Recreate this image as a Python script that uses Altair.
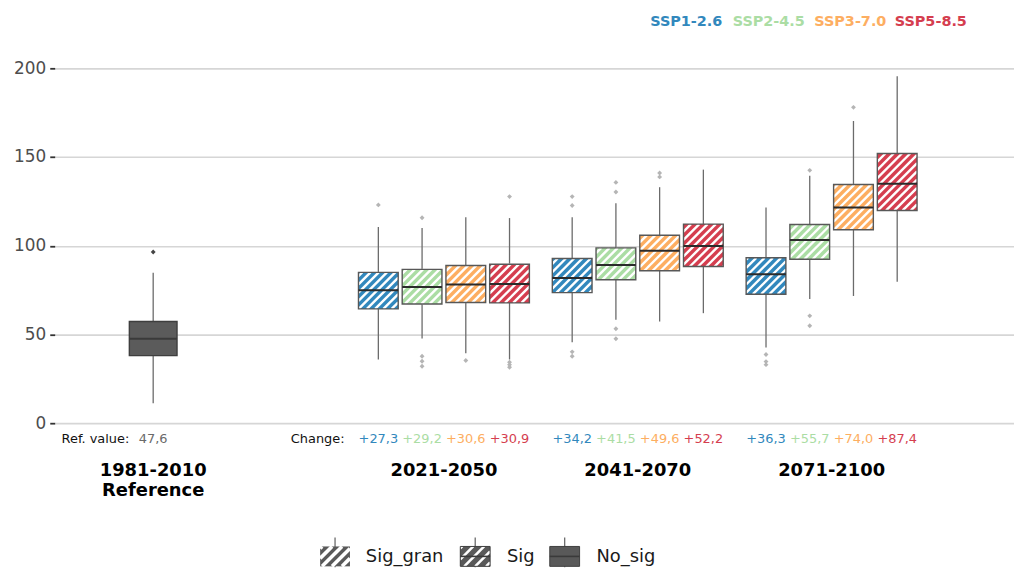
import altair as alt
import numpy as np
import pandas as pd

# ---------------- data ----------------
SCENARIOS = ["SSP1-2.6", "SSP2-4.5", "SSP3-7.0", "SSP5-8.5"]
COLORS = ["#3288bd", "#abdda4", "#fdae61", "#d53e4f"]
FUTURE_PERIODS = ["2021-2050", "2041-2070", "2071-2100"]
REF_PERIOD = "1981-2010\nReference"

REF_LO, REF_Q1, REF_MED, REF_Q3, REF_HI = 11.2, 38.1, 47.6, 57.3, 84.8
REF_OUTLIERS = [96.5]
REF_VALUE_LABEL = "47,6"

# rows: future periods, columns: scenarios
LO = [[35.9, 47.8, 39.4, 35.9], [45.6, 58.3, 57.3, 62.0], [42.6, 70.0, 71.7, 79.7]]
Q1 = [[64.4, 67.2, 68.0, 67.8], [73.6, 80.8, 85.9, 88.3], [72.7, 92.4, 109.0, 119.9]]
MED = [[74.9, 76.8, 78.2, 78.5], [81.8, 89.1, 97.2, 99.8], [83.9, 103.3, 121.6, 135.0]]
Q3 = [[85.0, 86.7, 88.9, 89.6], [92.8, 98.8, 105.9, 112.2], [93.2, 112.0, 134.5, 152.0]]
HI = [[110.5, 110.0, 116.1, 115.6], [116.1, 124.0, 133.0, 142.9], [121.6, 139.5, 170.3, 195.5]]
OUTLIERS = [
    [[123.0], [115.8, 37.7, 34.9, 32.1], [35.3], [127.7, 34.4, 33.0, 31.5]],
    [[127.7, 122.7, 40.2, 37.7], [135.7, 130.3, 53.2, 47.6], [141.0, 138.8], []],
    [[38.7, 34.7, 33.0], [142.5, 60.5, 54.9], [178.0], []],
]
CHANGE = [[27.3, 29.2, 30.6, 30.9], [34.2, 41.5, 49.6, 52.2], [36.3, 55.7, 74.0, 87.4]]
LEGEND_KINDS = ["Sig_gran", "Sig", "No_sig"]
Y_TICKS = [0, 50, 100, 150, 200]

# ---------------- layout ----------------
W, H = 965, 357
XMIN, XMAX = -0.508, 4.441
YMIN, YMAX = 0.0, 200.0
STEP = 0.2256
HALF_FUT = 0.1025
HALF_REF = 0.123
FONT = "DejaVu Sans"

xs = alt.Scale(domain=[XMIN, XMAX], nice=False, zero=False)
ys = alt.Scale(domain=[YMIN, YMAX], nice=False, zero=False)


def to_px(x, y):
    return (x - XMIN) / (XMAX - XMIN) * W, H - (y - YMIN) / (YMAX - YMIN) * H


def from_px(px, py):
    return XMIN + px / W * (XMAX - XMIN), YMIN + (H - py) / H * (YMAX - YMIN)


def hatch_segments(px0, px1, py0, py1, period):
    segs = []
    c = np.floor((px0 + py0) / period) * period
    while c < px1 + py1:
        xa = max(px0, c - py1)
        xb = min(px1, c - py0)
        if xb - xa > 0.2:
            segs.append((xa, c - xa, xb, c - xb))
        c += period
    return segs


def segs_to_data(segs):
    out = []
    for (xa, ya, xb, yb) in segs:
        x1, y1 = from_px(xa, ya)
        x2, y2 = from_px(xb, yb)
        out.append(dict(x=x1, y=y1, x2=x2, y2=y2))
    return out


# ---------------- tables ----------------
rows = [dict(pos=0.0, half=HALF_REF, lo=REF_LO, q1=REF_Q1, med=REF_MED, q3=REF_Q3, hi=REF_HI,
             fill="#5b5b5b", line="#3e3e3e", medcol="#3a3a3a", hatch=False)]
out_rows = [dict(pos=0.0, val=v, col="#444444") for v in REF_OUTLIERS]
change_rows = []
for i, p in enumerate(FUTURE_PERIODS):
    for j, s in enumerate(SCENARIOS):
        pos = 1.5 + i + (j - 1.5) * STEP
        rows.append(dict(pos=pos, half=HALF_FUT, lo=LO[i][j], q1=Q1[i][j], med=MED[i][j], q3=Q3[i][j],
                         hi=HI[i][j], fill=COLORS[j], line="#585858", medcol="#2b2b2b", hatch=True))
        for v in OUTLIERS[i][j]:
            out_rows.append(dict(pos=pos, val=v, col="#b5b5b5"))
        change_rows.append(dict(pos=pos, label="+" + f"{CHANGE[i][j]:.1f}".replace(".", ","), col=COLORS[j]))

boxes = pd.DataFrame(rows)
boxes["xl"] = boxes["pos"] - boxes["half"]
boxes["xr"] = boxes["pos"] + boxes["half"]
outs = pd.DataFrame(out_rows)
changes = pd.DataFrame(change_rows)
periods = pd.DataFrame({"pos": [0.0] + [1.5 + i for i in range(len(FUTURE_PERIODS))],
                        "label": [REF_PERIOD] + FUTURE_PERIODS})

hatch_rows = []
for _, b in boxes[boxes["hatch"]].iterrows():
    px0, py0 = to_px(b["xl"], b["q3"])
    px1, py1 = to_px(b["xr"], b["q1"])
    hatch_rows += segs_to_data(hatch_segments(px0, px1, py0, py1, 8.3))
hatch_df = pd.DataFrame(hatch_rows)

# bottom legend keys (pixel layout in view coords -> data coords)
LEG_X = [267, 408, 498]
LEG_TEXT_X = [313, 455, 545]
LEG_TOP, LEG_BOT, LEG_WTOP, LEG_WBOT = 481, 501, 472, 502
leg_boxes, leg_hatch_wide, leg_hatch_thin, leg_whisk, leg_med = [], [], [], [], []
for k, kind in enumerate(LEGEND_KINDS):
    x0 = LEG_X[k]
    x1 = x0 + 30
    ax0, ay0 = from_px(x0, LEG_TOP)
    ax1, ay1 = from_px(x1, LEG_BOT)
    wx, wy0 = from_px(x0 + 15, LEG_WTOP)
    _, wy1 = from_px(x0 + 15, LEG_WBOT)
    leg_whisk.append(dict(x=wx, y=wy0, y2=wy1))
    leg_boxes.append(dict(x=ax0, x2=ax1, y=ay0, y2=ay1,
                          lw=0 if kind == "Sig_gran" else 1))
    if kind == "Sig_gran":
        leg_hatch_wide += segs_to_data(hatch_segments(x0, x1, LEG_TOP, LEG_BOT, 10))
    elif kind == "Sig":
        leg_hatch_thin += segs_to_data(hatch_segments(x0, x1, LEG_TOP, LEG_BOT, 11))
    if kind != "Sig_gran":
        _, my = from_px(x0, (LEG_TOP + LEG_BOT) / 2)
        leg_med.append(dict(x=ax0, x2=ax1, y=my))
leg_boxes = pd.DataFrame(leg_boxes)

# ---------------- layers ----------------
yaxis = alt.Axis(values=Y_TICKS, title=None, grid=True, gridColor="#d6d6d6", gridWidth=1.7,
                 domain=False, ticks=True, tickColor="#333333", tickSize=5, tickWidth=1.8,
                 labelFontSize=17, labelColor="#4d4d4d", labelPadding=4, labelFont=FONT)


def X(f):
    return alt.X(f"{f}:Q", scale=xs, axis=None)


def Y(f):
    return alt.Y(f"{f}:Q", scale=ys, axis=yaxis)


base = alt.Chart(boxes)
layers = []
layers.append(base.mark_rule(color="#6b6b6b", strokeWidth=1.3).encode(x=X("pos"), y=Y("lo"), y2="q1"))
layers.append(base.mark_rule(color="#6b6b6b", strokeWidth=1.3).encode(x=X("pos"), y=Y("q3"), y2="hi"))
layers.append(base.mark_rect().encode(x=X("xl"), x2="xr", y=Y("q1"), y2="q3",
                                      fill=alt.Fill("fill:N", scale=None)))
layers.append(alt.Chart(hatch_df).mark_rule(color="white", strokeWidth=2.4).encode(
    x=X("x"), x2="x2", y=Y("y"), y2="y2"))
layers.append(base.mark_rect(fill="transparent", strokeWidth=1.4).encode(
    x=X("xl"), x2="xr", y=Y("q1"), y2="q3", stroke=alt.Stroke("line:N", scale=None)))
layers.append(base.mark_rule(strokeWidth=2).encode(
    x=X("xl"), x2="xr", y=Y("med"), color=alt.Color("medcol:N", scale=None)))
layers.append(alt.Chart(outs).mark_point(shape="diamond", filled=True, size=24, opacity=1).encode(
    x=X("pos"), y=Y("val"), color=alt.Color("col:N", scale=None)))

# annotations below the panel
ref_df = pd.DataFrame({"pos": [0.0], "t": [REF_VALUE_LABEL]})
layers.append(alt.Chart(ref_df).mark_text(fontSize=13, color="#6a6a6a", baseline="middle", font=FONT).encode(
    x=X("pos"), y=alt.value(373), text="t:N"))
layers.append(alt.Chart(ref_df).mark_text(fontSize=13, color="#111111", baseline="middle", align="right",
                                          dx=-24, text="Ref. value:", font=FONT).encode(
    x=X("pos"), y=alt.value(373)))
layers.append(alt.Chart(changes.iloc[:1]).mark_text(fontSize=13, color="#111111", baseline="middle",
                                                    align="right", dx=-34, text="Change:", font=FONT).encode(
    x=X("pos"), y=alt.value(373)))
layers.append(alt.Chart(changes).mark_text(fontSize=13, baseline="middle", font=FONT).encode(
    x=X("pos"), y=alt.value(373), text="label:N", color=alt.Color("col:N", scale=None)))
layers.append(alt.Chart(periods).mark_text(fontSize=18, fontWeight="bold", baseline="top", lineBreak="\n",
                                           lineHeight=20, color="#000000", font=FONT).encode(
    x=X("pos"), y=alt.value(396), text="label:N"))

# top legend (coloured scenario names)
dummy = pd.DataFrame({"a": [0]})
for s, c, px in zip(SCENARIOS, COLORS, [599, 682, 764, 845]):
    layers.append(alt.Chart(dummy).mark_text(text=s, color=c, fontWeight="bold", fontSize=14.5,
                                             align="left", baseline="middle", font=FONT).encode(
        x=alt.value(px), y=alt.value(-47)))

# bottom legend keys
layers.append(alt.Chart(pd.DataFrame(leg_whisk)).mark_rule(color="#6b6b6b", strokeWidth=1.3).encode(
    x=X("x"), y=Y("y"), y2="y2"))
layers.append(alt.Chart(leg_boxes).mark_rect(fill="#595959").encode(x=X("x"), x2="x2", y=Y("y"), y2="y2"))
layers.append(alt.Chart(pd.DataFrame(leg_hatch_wide)).mark_rule(color="white", strokeWidth=3.6).encode(
    x=X("x"), x2="x2", y=Y("y"), y2="y2"))
layers.append(alt.Chart(pd.DataFrame(leg_hatch_thin)).mark_rule(color="white", strokeWidth=2.6).encode(
    x=X("x"), x2="x2", y=Y("y"), y2="y2"))
layers.append(alt.Chart(leg_boxes[leg_boxes["lw"] > 0]).mark_rect(fill="transparent", stroke="#3e3e3e",
                                                                  strokeWidth=1).encode(
    x=X("x"), x2="x2", y=Y("y"), y2="y2"))
layers.append(alt.Chart(pd.DataFrame(leg_med)).mark_rule(color="#3a3a3a", strokeWidth=1.6).encode(
    x=X("x"), x2="x2", y=Y("y")))
for kind, px in zip(LEGEND_KINDS, LEG_TEXT_X):
    layers.append(alt.Chart(dummy).mark_text(text=kind, color="#1a1a1a", fontSize=18, align="left",
                                             baseline="middle", font=FONT).encode(
        x=alt.value(px), y=alt.value(492)))

chart = alt.layer(*layers).properties(
    width=W, height=H,
    autosize=alt.AutoSizeParams(type="none"),
    padding={"left": 47, "top": 59, "right": 0, "bottom": 144},
).configure(font=FONT).configure_view(stroke=None)

chart.save("out.html", embed_options={"renderer": "svg", "actions": False})
